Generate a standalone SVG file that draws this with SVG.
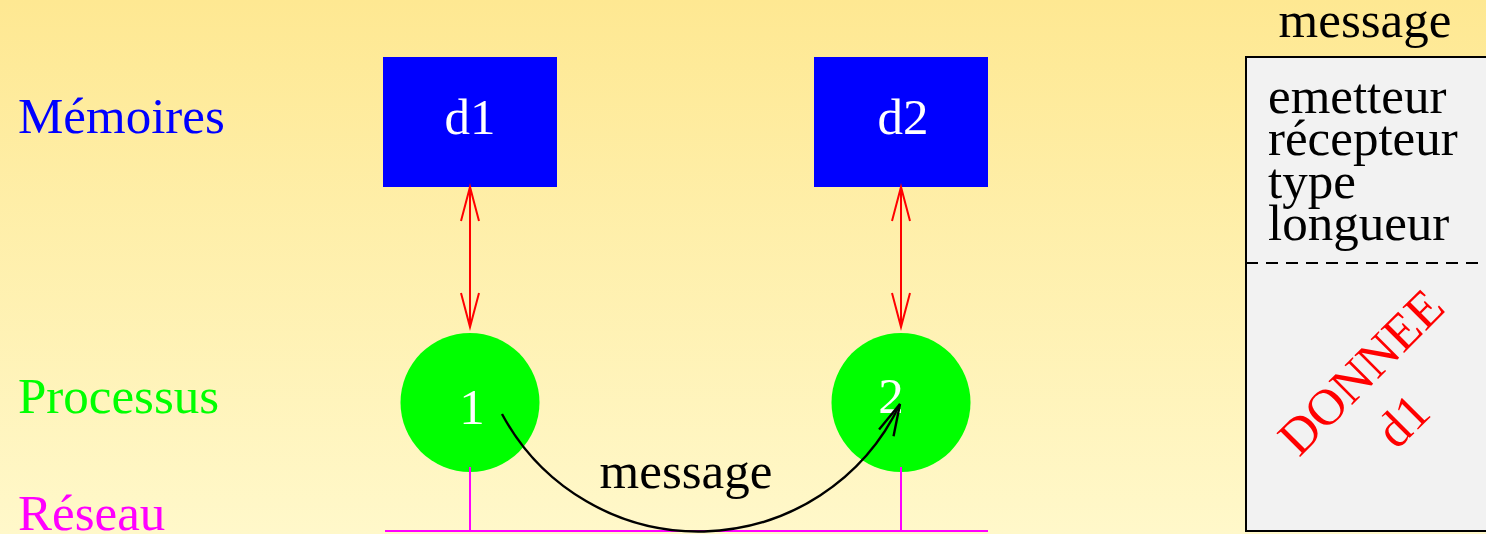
<svg xmlns="http://www.w3.org/2000/svg" width="1486" height="534" viewBox="0 0 1486 534">
<defs>
<linearGradient id="bg" x1="0" y1="0" x2="0" y2="1">
<stop offset="0" stop-color="#FEE892"/>
<stop offset="1" stop-color="#FFF8CA"/>
</linearGradient>
<marker id="ar" markerUnits="userSpaceOnUse" markerWidth="40" markerHeight="24" viewBox="-36 -12 40 24" refX="0" refY="0" orient="auto-start-reverse">
<path d="M-34,-9 L0,0 L-34,9" fill="none" stroke="#FF0000" stroke-width="2"/>
</marker>
<marker id="ab" markerUnits="userSpaceOnUse" markerWidth="40" markerHeight="24" viewBox="-36 -12 40 24" refX="0" refY="0" orient="auto">
<path d="M-32,-8 L0,0 L-32,8" fill="none" stroke="#000" stroke-width="2.4"/>
</marker>
</defs>
<style>
text{font-family:"Liberation Serif","Times New Roman",serif;font-size:51px}
.mid{text-anchor:middle}
.mem rect{fill:#0000FF}
.proc circle{fill:#00FF00}
.w{fill:#FFFFFF}
</style>
<rect x="0" y="0" width="1486" height="534" fill="url(#bg)"/>
<text x="18" y="133" fill="#0000FF">Mémoires</text>
<text x="18" y="413" fill="#00FF00">Processus</text>
<text x="18" y="530" fill="#FF00FF">Réseau</text>
<g id="d1" class="mem"><rect x="383" y="57" width="174" height="130"/><text class="mid w" x="470" y="134">d1</text></g>
<g id="d2" class="mem"><rect x="814" y="57" width="174" height="130"/><text class="mid w" x="903" y="134">d2</text></g>
<g id="p1" class="proc"><circle cx="470" cy="402.5" r="69.5"/><text class="mid w" x="472" y="424">1</text></g>
<g id="p2" class="proc"><circle cx="901" cy="402.5" r="69.5"/><text class="mid w" x="891" y="413">2</text></g>
<g id="connectors" fill="none">
<line x1="470" y1="187" x2="470" y2="327" stroke="#FF0000" stroke-width="2" marker-start="url(#ar)" marker-end="url(#ar)"/>
<line x1="901" y1="187" x2="901" y2="327" stroke="#FF0000" stroke-width="2" marker-start="url(#ar)" marker-end="url(#ar)"/>
<path d="M470,467 V531 M901,467 V531 M385,531 H988" stroke="#FF00FF" stroke-width="2"/>
<path d="M502,414 A223,223 0 0 0 900,404" stroke="#000" stroke-width="2.4" marker-end="url(#ab)"/>
</g>
<text class="mid" x="686" y="488" fill="#000">message</text>
<g id="msgbox">
<text class="mid" x="1365" y="37" fill="#000">message</text>
<rect x="1246" y="57" width="260" height="474" fill="#F2F2F2" stroke="#000" stroke-width="2"/>
<line x1="1246" y1="263" x2="1486" y2="263" stroke="#000" stroke-width="2" stroke-dasharray="12,8"/>
<text x="1268" y="113" fill="#000">emetteur</text>
<text x="1268" y="155" fill="#000">récepteur</text>
<text x="1268" y="198" fill="#000">type</text>
<text x="1268" y="240" fill="#000">longueur</text>
<g transform="translate(1373,384) rotate(-45)" fill="#FF0000">
<text class="mid" x="0" y="0">DONNEE</text>
<text class="mid" x="-5" y="64">d1</text>
</g>
</g>
</svg>
